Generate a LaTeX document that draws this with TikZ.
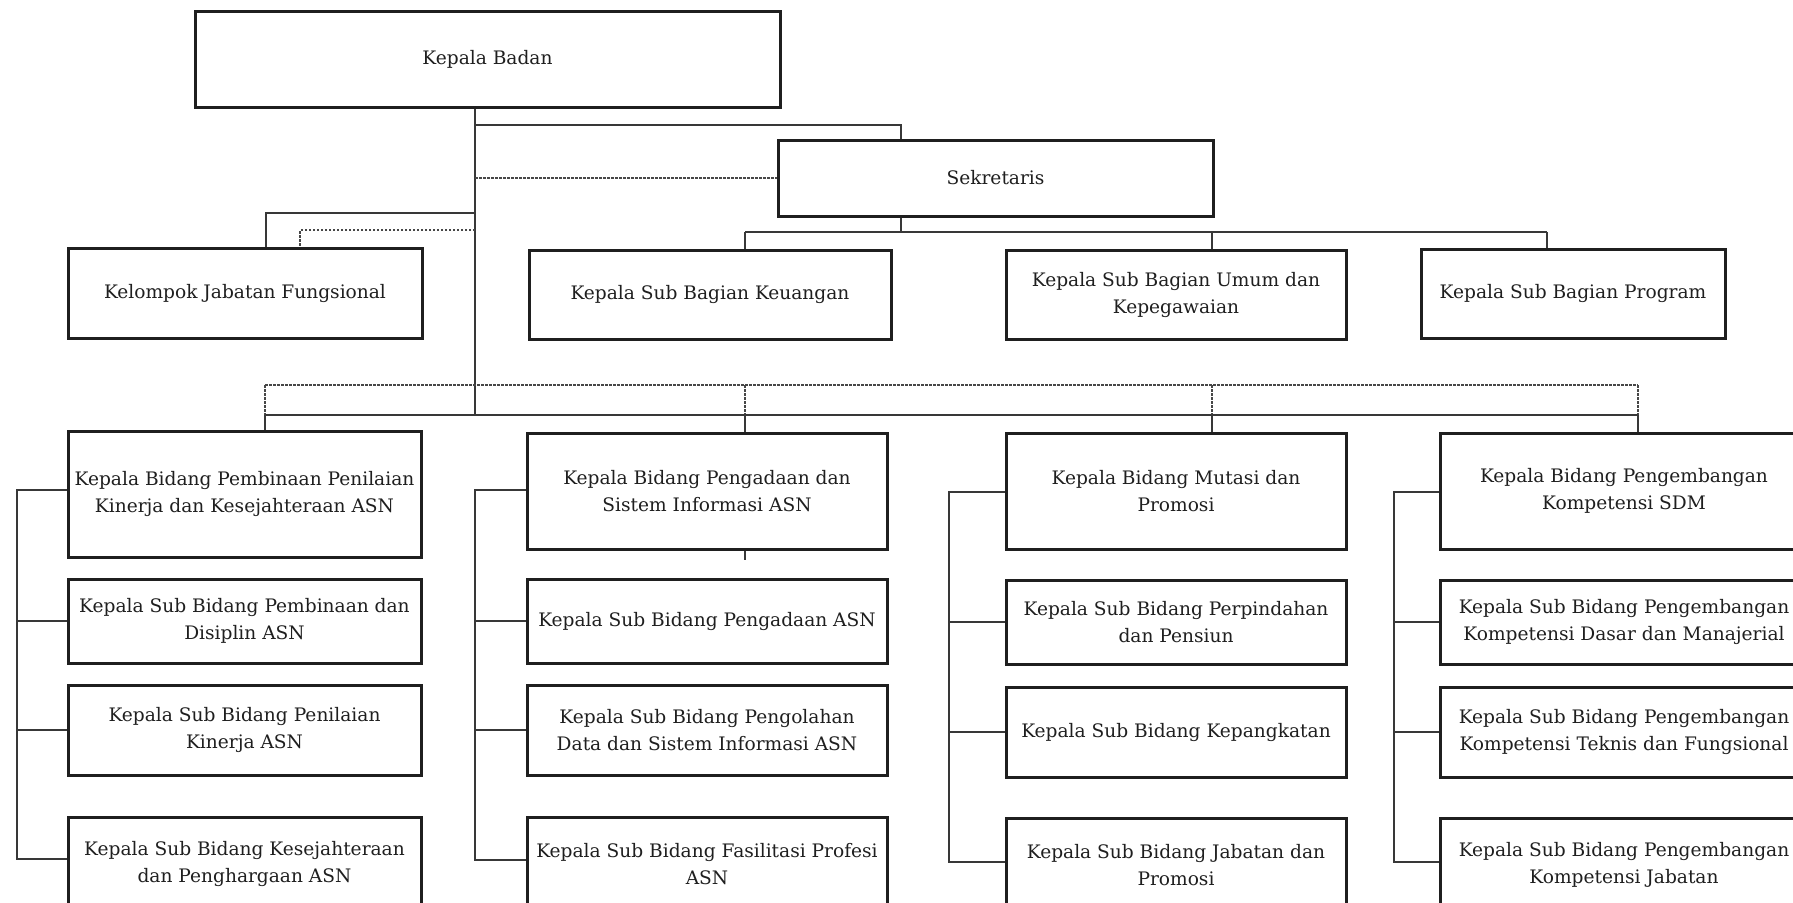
\documentclass[tikz,border=0pt]{standalone}
\usepackage{fontspec}
\setmainfont{DejaVu Serif}
\begin{document}
\begin{tikzpicture}[x=1pt,y=-1pt,
  box/.style={draw=black!88, line width=3pt, inner sep=0pt, align=center, text=black!88,
    font=\fontsize{18.6}{27}\selectfont},
  conn/.style={draw=black!78, line width=1.4pt},
  dsh/.style={draw=black!72, line width=1.3pt, dash pattern=on 2.5pt off 1.5pt}]
\useasboundingbox (0,0) rectangle (1793,902);
\clip (0,0) rectangle (1793,902);
\fill[white] (0,0) rectangle (1793,902);
\newcommand{\orgbox}[6]{%
  \node[box, minimum width={(#4-#2)*1pt}, minimum height={(#5-#3)*1pt}] (#1) at ({(#2+#4)/2},{(#3+#5)/2}) {#6};}
% top
\orgbox{kb}{195}{11}{780}{107}{Kepala Badan}
\orgbox{sek}{778}{140}{1213}{216}{Sekretaris}
\orgbox{kjf}{68}{248}{422}{338}{Kelompok Jabatan Fungsional}
\orgbox{keu}{529}{250}{891}{339}{Kepala Sub Bagian Keuangan}
\orgbox{umum}{1006}{250}{1346}{339}{Kepala Sub Bagian Umum dan\\Kepegawaian}
\orgbox{prog}{1421}{249}{1725}{338}{Kepala Sub Bagian Program}
% column 1
\orgbox{a1}{68}{431}{421}{557}{Kepala Bidang Pembinaan Penilaian\\Kinerja dan Kesejahteraan ASN}
\orgbox{a2}{68}{579}{421}{663}{Kepala Sub Bidang Pembinaan dan\\Disiplin ASN}
\orgbox{a3}{68}{685}{421}{775}{Kepala Sub Bidang Penilaian\\Kinerja ASN}
\orgbox{a4}{68}{817}{421}{911}{Kepala Sub Bidang Kesejahteraan\\dan Penghargaan ASN}
% column 2
\orgbox{b1}{527}{433}{887}{549}{Kepala Bidang Pengadaan dan\\Sistem Informasi ASN}
\orgbox{b2}{527}{579}{887}{663}{Kepala Sub Bidang Pengadaan ASN}
\orgbox{b3}{527}{685}{887}{775}{Kepala Sub Bidang Pengolahan\\Data dan Sistem Informasi ASN}
\orgbox{b4}{527}{817}{887}{911}{Kepala Sub Bidang Fasilitasi Profesi\\ASN}
% column 3
\orgbox{c1}{1006}{433}{1346}{549}{Kepala Bidang Mutasi dan\\Promosi}
\orgbox{c2}{1006}{580}{1346}{664}{Kepala Sub Bidang Perpindahan\\dan Pensiun}
\orgbox{c3}{1006}{687}{1346}{777}{Kepala Sub Bidang Kepangkatan}
\orgbox{c4}{1006}{818}{1346}{912}{Kepala Sub Bidang Jabatan dan\\Promosi}
% column 4
\orgbox{d1}{1440}{433}{1808}{549}{Kepala Bidang Pengembangan\\Kompetensi SDM}
\orgbox{d2}{1440}{580}{1808}{664}{Kepala Sub Bidang Pengembangan\\Kompetensi Dasar dan Manajerial}
\orgbox{d3}{1440}{687}{1808}{777}{Kepala Sub Bidang Pengembangan\\Kompetensi Teknis dan Fungsional}
\orgbox{d4}{1440}{818}{1808}{912}{Kepala Sub Bidang Pengembangan\\Kompetensi Jabatan}
% coordinates
\coordinate (trunk) at (475,415);
\coordinate (jsek) at (475,125);
\coordinate (sekx) at (901,0);
\coordinate (jk1) at (475,213);
\coordinate (jk2) at (475,230);
\coordinate (kx1) at (266,0);
\coordinate (kx2) at (300,0);
\coordinate (sbus) at (901,232);
\coordinate (sL) at (745,232);
\coordinate (sM) at (1212,232);
\coordinate (sR) at (1547,232);
\coordinate (dL) at (265,385);
\coordinate (dR) at (1638,385);
\coordinate (bL) at (265,415);
\coordinate (bR) at (1638,415);
\coordinate (x2) at (745,0);
\coordinate (x3) at (1212,0);
\coordinate (tick) at (745,560);
% top connectors
\draw[conn] (kb.south -| trunk) -- (trunk);
\draw[conn] (jsek) -| (sek.north -| sekx);
\draw[dsh] (sek.west -| trunk) -- (sek.west);
\draw[conn] (jk1) -| (kjf.north -| kx1);
\draw[dsh] (jk2) -| (kjf.north -| kx2);
\draw[conn] (sek.south -| sekx) -- (sbus);
\draw[conn] (sL) -- (sR);
\draw[conn] (sL) -- (keu.north -| sL);
\draw[conn] (sM) -- (umum.north -| sM);
\draw[conn] (sR) -- (prog.north -| sR);
% buses
\draw[dsh] (dL) -- (dR);
\draw[dsh] (dL) -- (bL);
\draw[dsh] (dL -| x2) -- (bL -| x2);
\draw[dsh] (dL -| x3) -- (bL -| x3);
\draw[dsh] (dR) -- (bR);
\draw[conn] (bL) -- (bR);
\draw[conn] (bL) -- (a1.north -| bL);
\draw[conn] (bL -| x2) -- (b1.north -| x2);
\draw[conn] (bL -| x3) -- (c1.north -| x3);
\draw[conn] (bR) -- (d1.north -| bR);
\draw[conn] (b1.south -| tick) -- (tick);
% side brackets
\foreach \c/\x/\ya/\yb/\yc/\yd in {a/17/490/621/730/859, b/475/490/621/730/860, c/949/492/622/732/862, d/1394/492/622/732/862}{
  \coordinate (\c v1) at (\x,\ya);
  \coordinate (\c v2) at (\x,\yb);
  \coordinate (\c v3) at (\x,\yc);
  \coordinate (\c v4) at (\x,\yd);
  \draw[conn] (\c1.west |- \c v1) -- (\c v1) -- (\c v4) -- (\c4.west |- \c v4);
  \draw[conn] (\c v2) -- (\c2.west |- \c v2);
  \draw[conn] (\c v3) -- (\c3.west |- \c v3);
}
\end{tikzpicture}
\end{document}
